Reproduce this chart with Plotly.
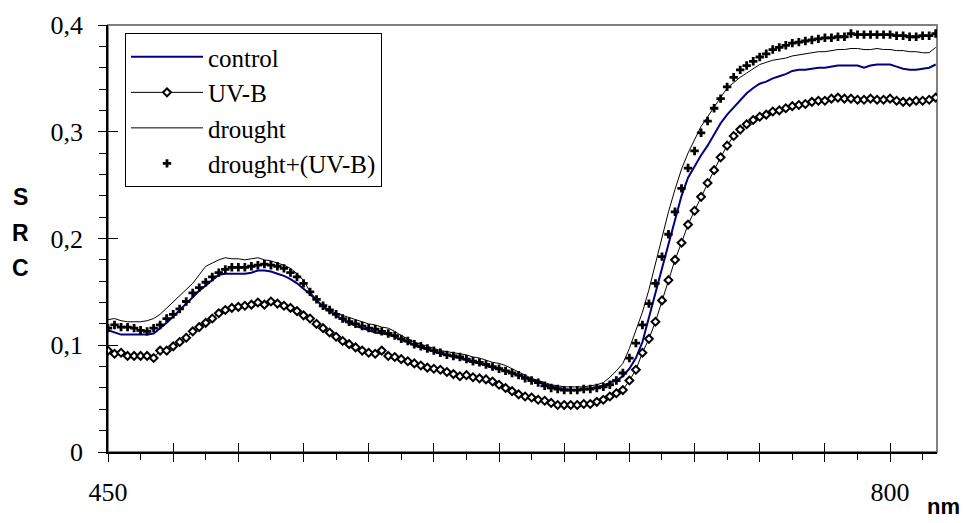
import plotly.graph_objects as go

# wavelength grid (nm) - evenly spaced spectrometer channels
wavelengths = [round(450 + i * 350 / 120, 2) for i in range(128)]

control = [
    0.114, 0.112, 0.110, 0.110, 0.110, 0.110, 0.110, 0.111, 0.116, 0.121,
    0.127, 0.133, 0.139, 0.145, 0.151, 0.156, 0.161, 0.166, 0.167, 0.167,
    0.167, 0.167, 0.168, 0.170, 0.170, 0.169, 0.167, 0.165, 0.162, 0.158,
    0.153, 0.148, 0.142, 0.136, 0.132, 0.128, 0.124, 0.121, 0.118, 0.116,
    0.114, 0.112, 0.111, 0.110, 0.108, 0.105, 0.103, 0.100, 0.098, 0.096,
    0.094, 0.092, 0.091, 0.089, 0.088, 0.086, 0.084, 0.083, 0.081, 0.079,
    0.078, 0.076, 0.074, 0.072, 0.070, 0.068, 0.066, 0.063, 0.062, 0.060,
    0.059, 0.058, 0.058, 0.059, 0.059, 0.061, 0.062, 0.065, 0.067, 0.071,
    0.078, 0.088, 0.103, 0.125, 0.149, 0.172, 0.195, 0.218, 0.240, 0.257,
    0.268, 0.278, 0.287, 0.298, 0.308, 0.316, 0.323, 0.330, 0.336, 0.341,
    0.345, 0.347, 0.350, 0.352, 0.354, 0.357, 0.358, 0.358, 0.359, 0.360,
    0.360, 0.361, 0.362, 0.362, 0.362, 0.362, 0.360, 0.362, 0.363, 0.363,
    0.363, 0.361, 0.359, 0.358, 0.358, 0.359, 0.360, 0.363]

uvb = [
    0.095, 0.092, 0.093, 0.090, 0.090, 0.090, 0.090, 0.088, 0.095, 0.095,
    0.099, 0.103, 0.107, 0.113, 0.117, 0.121, 0.125, 0.130, 0.133, 0.135,
    0.136, 0.137, 0.138, 0.140, 0.138, 0.141, 0.139, 0.137, 0.135, 0.132,
    0.128, 0.125, 0.120, 0.116, 0.112, 0.108, 0.104, 0.101, 0.098, 0.095,
    0.093, 0.092, 0.095, 0.090, 0.089, 0.087, 0.085, 0.083, 0.081, 0.079,
    0.078, 0.077, 0.075, 0.073, 0.071, 0.072, 0.070, 0.069, 0.068, 0.066,
    0.063, 0.060, 0.057, 0.054, 0.052, 0.051, 0.049, 0.048, 0.046, 0.044,
    0.044, 0.044, 0.044, 0.045, 0.045, 0.047, 0.049, 0.052, 0.055, 0.058,
    0.067, 0.077, 0.093, 0.106, 0.122, 0.142, 0.161, 0.180, 0.196, 0.213,
    0.226, 0.239, 0.252, 0.264, 0.276, 0.287, 0.296, 0.302, 0.307, 0.311,
    0.314, 0.316, 0.319, 0.320, 0.322, 0.324, 0.325, 0.326, 0.328, 0.329,
    0.329, 0.331, 0.332, 0.331, 0.331, 0.330, 0.330, 0.331, 0.330, 0.330,
    0.331, 0.329, 0.328, 0.328, 0.329, 0.329, 0.330, 0.332]

drought = [
    0.124, 0.125, 0.123, 0.122, 0.122, 0.122, 0.123, 0.125, 0.129, 0.135,
    0.141, 0.146, 0.152, 0.158, 0.166, 0.174, 0.177, 0.180, 0.182, 0.181,
    0.181, 0.180, 0.181, 0.182, 0.180, 0.179, 0.177, 0.175, 0.172, 0.167,
    0.161, 0.150, 0.143, 0.137, 0.133, 0.130, 0.128, 0.126, 0.124, 0.122,
    0.120, 0.119, 0.117, 0.116, 0.113, 0.109, 0.106, 0.103, 0.101, 0.099,
    0.097, 0.095, 0.094, 0.093, 0.092, 0.091, 0.089, 0.088, 0.086, 0.084,
    0.083, 0.081, 0.078, 0.075, 0.072, 0.069, 0.067, 0.065, 0.063, 0.062,
    0.061, 0.061, 0.061, 0.061, 0.062, 0.063, 0.065, 0.070, 0.076, 0.083,
    0.097, 0.114, 0.131, 0.152, 0.177, 0.200, 0.225, 0.246, 0.265, 0.280,
    0.293, 0.305, 0.314, 0.323, 0.333, 0.341, 0.346, 0.351, 0.355, 0.359,
    0.363, 0.365, 0.367, 0.368, 0.369, 0.371, 0.372, 0.373, 0.374, 0.375,
    0.375, 0.376, 0.377, 0.377, 0.378, 0.378, 0.377, 0.377, 0.378, 0.377,
    0.377, 0.376, 0.376, 0.375, 0.375, 0.374, 0.374, 0.379]

drought_uvb = [
    0.116, 0.119, 0.117, 0.117, 0.116, 0.114, 0.113, 0.116, 0.119, 0.125,
    0.129, 0.134, 0.141, 0.149, 0.154, 0.159, 0.164, 0.168, 0.171, 0.173,
    0.173, 0.173, 0.174, 0.175, 0.176, 0.175, 0.174, 0.172, 0.168, 0.164,
    0.158, 0.150, 0.143, 0.137, 0.133, 0.129, 0.125, 0.122, 0.120, 0.118,
    0.116, 0.115, 0.113, 0.111, 0.109, 0.106, 0.104, 0.101, 0.099, 0.097,
    0.095, 0.093, 0.091, 0.090, 0.089, 0.087, 0.085, 0.084, 0.082, 0.080,
    0.078, 0.076, 0.074, 0.072, 0.069, 0.067, 0.065, 0.062, 0.060, 0.059,
    0.058, 0.058, 0.058, 0.059, 0.059, 0.060, 0.061, 0.063, 0.067, 0.074,
    0.088, 0.102, 0.119, 0.139, 0.158, 0.183, 0.204, 0.225, 0.247, 0.266,
    0.282, 0.299, 0.310, 0.322, 0.331, 0.342, 0.351, 0.358, 0.362, 0.366,
    0.370, 0.373, 0.377, 0.379, 0.381, 0.383, 0.384, 0.385, 0.386, 0.387,
    0.388, 0.388, 0.389, 0.389, 0.392, 0.391, 0.391, 0.391, 0.391, 0.391,
    0.391, 0.390, 0.390, 0.389, 0.389, 0.390, 0.390, 0.392]

x_labels = {450: "450", 800: "800"}
y_ticks = [0, 0.1, 0.2, 0.3, 0.4]
y_title_letters = ["S", "R", "C"]

step = 350 / 12
x_major = [450 + k * step for k in range(13)]
x_minor = [450 + (k + 0.5) * step for k in range(13)]
x_text = [x_labels.get(round(v), "") for v in x_major]
x_range = [450, 821]

serif = "Liberation Serif, Times New Roman, serif"
sans = "Liberation Sans, Arial, sans-serif"

fig = go.Figure()
fig.add_trace(go.Scatter(
    x=wavelengths, y=control, name="control", mode="lines",
    line=dict(color="#000080", width=2)))
fig.add_trace(go.Scatter(
    x=wavelengths, y=uvb, name="UV-B", mode="lines+markers",
    line=dict(color="black", width=1),
    marker=dict(symbol="diamond", size=6, color="white",
                line=dict(color="black", width=2))))
fig.add_trace(go.Scatter(
    x=wavelengths, y=drought, name="drought", mode="lines",
    line=dict(color="black", width=1)))
fig.add_trace(go.Scatter(
    x=wavelengths, y=drought_uvb, name="drought+(UV-B)", mode="markers",
    marker=dict(symbol="cross", size=7, color="black",
                line=dict(width=0))))
# carrier for the inner half of the crossing major ticks
fig.add_trace(go.Scatter(x=[], y=[], xaxis="x2", yaxis="y2",
                         showlegend=False, hoverinfo="skip"))

# page body has an 8px margin: compensate so the plot lands where the reference has it
fig.update_layout(
    width=961, height=515,
    margin=dict(l=100, r=32, t=17, b=71, autoexpand=False),
    paper_bgcolor="white", plot_bgcolor="white",
    separators=",.",
    showlegend=True,
    legend=dict(
        x=0.0205, y=0.981, xanchor="left", yanchor="top",
        bgcolor="white", bordercolor="black", borderwidth=1,
        font=dict(family=serif, size=25, color="black"),
        itemwidth=72, tracegroupgap=0),
    xaxis=dict(
        range=x_range, showgrid=False, zeroline=False, automargin=False,
        showline=True, linecolor="black", linewidth=1.5,
        tickmode="array", tickvals=x_major, ticktext=x_text,
        ticks="outside", ticklen=8, tickcolor="black", tickwidth=1,
        ticklabelstandoff=8,
        tickfont=dict(family=serif, size=26, color="black"),
        minor=dict(tickvals=x_minor, ticks="outside", ticklen=6,
                   tickcolor="black", tickwidth=1),
        layer="above traces"),
    yaxis=dict(
        range=[0, 0.4], showgrid=False, zeroline=False, automargin=False,
        showline=True, linecolor="black", linewidth=1.5,
        tickmode="array", tickvals=y_ticks,
        ticks="outside", ticklen=8, tickcolor="black", tickwidth=1,
        ticklabelstandoff=10,
        tickfont=dict(family=serif, size=26, color="black"),
        minor=dict(dtick=0.02, tick0=0, ticks="outside", ticklen=7,
                   tickcolor="black", tickwidth=1),
        layer="above traces"),
    xaxis2=dict(
        overlaying="x", matches="x", anchor="y2", side="bottom",
        automargin=False,
        range=x_range, showgrid=False, zeroline=False, showline=False,
        tickmode="array", tickvals=x_major, showticklabels=False,
        ticks="inside", ticklen=9, tickcolor="black", tickwidth=1),
    yaxis2=dict(
        overlaying="y", matches="y", anchor="x2", side="left",
        automargin=False,
        range=[0, 0.4], showgrid=False, zeroline=False, showline=False,
        tickmode="array", tickvals=y_ticks, showticklabels=False,
        ticks="inside", ticklen=10, tickcolor="black", tickwidth=1),
    shapes=[dict(type="rect", xref="paper", yref="paper",
                 x0=0, y0=0, x1=1, y1=1, layer="below",
                 line=dict(color="#808080", width=2))],
)

for letter, ypos in zip(y_title_letters, [0.597, 0.513, 0.431]):
    fig.add_annotation(text="<b>" + letter + "</b>", xref="paper", yref="paper",
                       x=-0.106, y=ypos, xanchor="center", yanchor="middle",
                       showarrow=False,
                       font=dict(family=sans, size=23, color="black"))

fig.add_annotation(text="<b>nm</b>", xref="paper", yref="paper",
                   x=1.008, y=-0.128, xanchor="center", yanchor="middle",
                   showarrow=False,
                   font=dict(family=sans, size=22, color="black"))

fig.write_html("out.html")
